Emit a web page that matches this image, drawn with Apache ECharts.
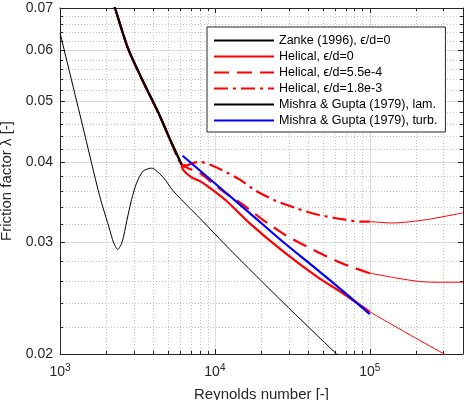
<!DOCTYPE html>
<html>
<head>
<meta charset="utf-8">
<script src="https://cdn.jsdelivr.net/npm/echarts@6/dist/echarts.min.js"></script>
<style>
  html, body { margin: 0; padding: 0; background: #fff; }
  #chart { width: 468px; height: 400px; }
</style>
</head>
<body>
<div id="chart"></div>
<script>
  // axis ticks (log scale)
  var reTicks = [1e3, 1e4, 1e5];
  var reMinor = [2e3, 3e3, 4e3, 5e3, 6e3, 7e3, 8e3, 9e3, 2e4, 3e4, 4e4, 5e4, 6e4, 7e4, 8e4, 9e4, 2e5, 3e5];
  var fTicks = [0.02, 0.03, 0.04, 0.05, 0.06, 0.07];
  var fMinor = [0.022, 0.024, 0.026, 0.028, 0.032, 0.034, 0.036, 0.038, 0.042, 0.044, 0.046, 0.048,
                0.052, 0.054, 0.056, 0.058, 0.062, 0.064, 0.066, 0.068];

  // Zanke (1996), e/d=0
  var zankeRe = [1000, 1400, 1800, 2100, 2210, 2360, 2520, 2700, 2900, 3130, 3450, 3900, 4640, 5380, 6900, 8000, 12500, 27600, 61000, 70000];
  var zankeF  = [0.064, 0.0457, 0.0355, 0.0313, 0.0300, 0.0292, 0.0300, 0.0324, 0.0350, 0.0372, 0.0388, 0.0392, 0.0379, 0.0361, 0.0339, 0.0327, 0.0292, 0.0241, 0.0200, 0.0194];

  // Mishra & Gupta (1979), laminar
  var lamRe = [2100, 2264, 2760, 3470, 4370, 5130, 6100];
  var lamF  = [0.0741, 0.0700, 0.0603, 0.0534, 0.0476, 0.0435, 0.0397];

  // Helical, e/d=0
  var hel0Re = [6220, 7070, 8000, 9280, 11900, 16800, 27600, 45300, 67300, 100000];
  var hel0F  = [0.0390, 0.0379, 0.0374, 0.0365, 0.0348, 0.0321, 0.0290, 0.0265, 0.0249, 0.0233];
  var hel0ReExt = [100000, 173000, 297000, 400000];
  var hel0FExt  = [0.0233, 0.02158, 0.02005, 0.0193];

  // Helical, e/d=5.5e-4
  var hel1Re = [6700, 8000, 11340, 15040, 20110, 28290, 37240, 52400, 70540, 100000];
  var hel1F  = [0.0392, 0.0385, 0.0360, 0.0344, 0.0326, 0.0308, 0.0297, 0.0285, 0.0276, 0.0268];
  var hel1ReExt = [100000, 145000, 210000, 283000, 400000];
  var hel1FExt  = [0.0268, 0.02636, 0.0260, 0.02593, 0.02594];

  // Helical, e/d=1.8e-3
  var hel2Re = [6600, 7100, 8000, 9750, 11900, 14500, 18100, 24900, 33600, 44200, 60800, 88200, 100000];
  var hel2F  = [0.0396, 0.0399, 0.0401, 0.0395, 0.0386, 0.0376, 0.0362, 0.0348, 0.0339, 0.0332, 0.0327, 0.0323, 0.0323];
  var hel2ReExt = [100000, 141000, 232000, 400000];
  var hel2FExt  = [0.0323, 0.03214, 0.03253, 0.03334];

  // Mishra & Gupta (1979), turbulent
  var turbRe = [6190, 16800, 27600, 45300, 74300, 100000];
  var turbF  = [0.0410, 0.0333, 0.0300, 0.0272, 0.0246, 0.0231];

  var names = ['Zanke (1996), \u03f5/d=0', 'Helical, \u03f5/d=0', 'Helical, \u03f5/d=5.5e-4',
               'Helical, \u03f5/d=1.8e-3', 'Mishra & Gupta (1979), lam.', 'Mishra & Gupta (1979), turb.'];

  var FONT = '"Liberation Sans", Arial, sans-serif';
  var AXC = '#262626';
  var L = Math.log10;

  function pts(re, f) {
    return re.map(function (r, i) { return [L(r), L(f[i])]; });
  }

  function xAx(pos, vals, len, line, split, label) {
    var ax = {
      type: 'value', position: pos, min: L(1e3), max: L(4e5),
      axisLine: { show: line, onZero: false, lineStyle: { color: AXC, width: 1 } },
      axisTick: { show: true, inside: true, length: len, customValues: vals.map(L), lineStyle: { color: AXC } },
      axisLabel: { show: false },
      splitLine: split ? { show: true, lineStyle: split } : { show: false }
    };
    if (label) ax.axisLabel = label;
    return ax;
  }
  function yAx(pos, vals, len, line, split, label) {
    var ax = {
      type: 'value', position: pos, min: L(0.02), max: L(0.07),
      axisLine: { show: line, onZero: false, lineStyle: { color: AXC, width: 1 } },
      axisTick: { show: true, inside: true, length: len, customValues: vals.map(L), lineStyle: { color: AXC } },
      axisLabel: { show: false },
      splitLine: split ? { show: true, lineStyle: split } : { show: false }
    };
    if (label) ax.axisLabel = label;
    return ax;
  }

  var majorGrid = { color: '#dedede', width: 1 };
  var minorGrid = { color: '#c4c4c4', width: 1, type: [1, 2] };

  var xMain = xAx('bottom', reTicks, 5, true, majorGrid, {
    show: true, customValues: reTicks.map(L), margin: 9,
    formatter: function (v) { return '{b|10}{s|' + Math.round(v) + '}'; },
    rich: {
      b: { fontFamily: FONT, fontSize: 14, color: AXC },
      s: { fontFamily: FONT, fontSize: 10, color: AXC, padding: [0, 0, 8, 0] }
    }
  });
  xMain.name = 'Reynolds number [-]';
  xMain.nameLocation = 'middle';
  xMain.nameGap = 33;
  xMain.nameTextStyle = { fontFamily: FONT, fontSize: 15, color: AXC };

  var yMain = yAx('left', fTicks, 5, true, majorGrid, {
    show: true, customValues: fTicks.map(L), margin: 7,
    fontFamily: FONT, fontSize: 14, color: AXC,
    formatter: function (v) { return Math.pow(10, v).toFixed(2); }
  });
  yMain.name = 'Friction factor \u03bb [-]';
  yMain.nameLocation = 'middle';
  yMain.nameGap = 44;
  yMain.nameTextStyle = { fontFamily: FONT, fontSize: 15, color: AXC };

  function line(name, data, color, width, type, z) {
    return {
      name: name, type: 'line', data: data, symbol: 'none', symbolSize: 0, showSymbol: false,
      smooth: 0.25, clip: true, z: z,
      lineStyle: { color: color, width: width, type: type || 'solid' },
      itemStyle: { color: color }
    };
  }

  var chart = echarts.init(document.getElementById('chart'));
  chart.setOption({
    animation: false,
    backgroundColor: '#fff',
    grid: { left: 60, right: 5, top: 8, bottom: 46, containLabel: false, outerBoundsMode: 'none' },
    xAxis: [
      xMain,
      xAx('bottom', reMinor, 3, false, minorGrid),
      xAx('top', reTicks, 5, true, null),
      xAx('top', reMinor, 3, false, null)
    ],
    yAxis: [
      yMain,
      yAx('left', fMinor, 3, false, minorGrid),
      yAx('right', fTicks, 5, true, null),
      yAx('right', fMinor, 3, false, null)
    ],
    legend: {
      data: names, orient: 'vertical', left: 207, top: 27,
      itemWidth: 60, itemHeight: 14, itemGap: 3,
      padding: [7, 8, 5, 6],
      borderColor: AXC, borderWidth: 1, backgroundColor: '#fff',
      itemStyle: { opacity: 0, borderWidth: 0 },
      textStyle: { fontFamily: FONT, fontSize: 12.5, color: '#000' }
    },
    series: [
      line(names[0], pts(zankeRe, zankeF), '#000', 1, 'solid', 2),
      line(names[1], pts(lamRe, lamF).concat(pts(hel0Re, hel0F)), '#ff0000', 2.2, 'solid', 3),
      line('h0ext', pts(hel0ReExt, hel0FExt), '#ff0000', 1, 'solid', 3),
      line(names[2], pts(lamRe, lamF).concat(pts(hel1Re, hel1F)), '#ff0000', 2.2, [15, 8], 3),
      line('h1ext', pts(hel1ReExt, hel1FExt), '#ff0000', 1, 'solid', 3),
      line(names[3], pts(lamRe, lamF).concat(pts(hel2Re, hel2F)), '#ff0000', 2.2, [14, 5, 3, 5], 3),
      line('h2ext', pts(hel2ReExt, hel2FExt), '#ff0000', 1, 'solid', 3),
      line(names[4], pts(lamRe, lamF), '#000', 2.2, 'solid', 4),
      line(names[5], pts(turbRe, turbF), '#0000ff', 2.2, 'solid', 5)
    ]
  });
</script>
</body>
</html>
